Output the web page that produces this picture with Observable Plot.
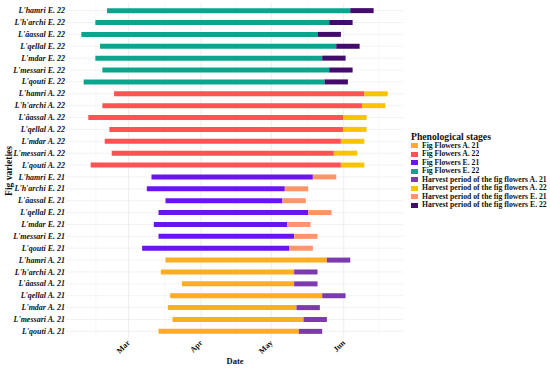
<!DOCTYPE html>
<html><head><meta charset="utf-8">
<script src="https://cdn.jsdelivr.net/npm/d3@7"></script>
<script src="https://cdn.jsdelivr.net/npm/@observablehq/plot@0.6"></script>
<style>
body{margin:0;background:#fff;}
#wrap{position:relative;width:550px;height:369px;font-family:"Liberation Serif","Times New Roman",serif;color:#111;}
#legend{position:absolute;left:411px;top:130.5px;width:139px;}
#legend .title{font-weight:bold;font-size:9.7px;line-height:11px;margin-bottom:0px;white-space:nowrap;}
.lg-swatches{margin:0 !important;font-family:"Liberation Serif","Times New Roman",serif !important;font-size:7.7px !important;font-weight:bold;color:#111;}
.lg-swatch{height:8.5px;padding:0 !important;margin:0 !important;line-height:8.5px;display:flex;align-items:center;white-space:nowrap;}
.lg-swatch svg{margin-right:4px !important;}
</style></head><body>
<div id="wrap"><div id="chart"></div><div id="legend"><div class="title">Phenological stages</div></div></div>
<script>
const varieties = ["L'hamri", "L'h'archi", "L'âassal", "L'qellal", "L'mdar", "L'messari", "L'qouti"];
const groups = ["E. 22", "A. 22", "E. 21", "A. 21"];
const stages = [
  "Fig Flowers A. 21", "Fig Flowers A. 22", "Fig Flowers E. 21", "Fig Flowers E. 22",
  "Harvest period of the fig flowers A. 21", "Harvest period of the fig flowers A. 22",
  "Harvest period of the fig flowers E. 21", "Harvest period of the fig flowers E. 22"
];
const colors = ["#FCAD22", "#FF5252", "#6A14F5", "#0BA58E", "#7B3BAE", "#F7C500", "#FF9468", "#420B6C"];

// month-day, one value per variety (order of `varieties`)
const flowerStartE22  = ["02-20", "02-15", "02-09", "02-17", "02-15", "02-18", "02-10"];
const harvestStartE22 = ["06-04", "05-26", "05-21", "05-29", "05-23", "05-26", "05-24"];
const harvestEndE22   = ["06-14", "06-05", "05-31", "06-08", "06-02", "06-05", "06-03"];

const flowerStartA22  = ["02-23", "02-18", "02-12", "02-21", "02-19", "02-22", "02-13"];
const harvestStartA22 = ["06-10", "06-09", "06-01", "06-01", "05-31", "05-28", "05-31"];
const harvestEndA22   = ["06-20", "06-19", "06-11", "06-11", "06-10", "06-07", "06-10"];

const flowerStartE21  = ["03-11", "03-09", "03-17", "03-14", "03-12", "03-14", "03-07"];
const harvestStartE21 = ["05-19", "05-07", "05-06", "05-17", "05-08", "05-11", "05-09"];
const harvestEndE21   = ["05-29", "05-17", "05-16", "05-27", "05-18", "05-21", "05-19"];

const flowerStartA21  = ["03-17", "03-15", "03-24", "03-19", "03-18", "03-20", "03-14"];
const harvestStartA21 = ["05-25", "05-11", "05-11", "05-23", "05-12", "05-15", "05-13"];
const harvestEndA21   = ["06-04", "05-21", "05-21", "06-02", "05-22", "05-25", "05-23"];

const series = {
  "E. 22": [flowerStartE22, harvestStartE22, harvestEndE22],
  "A. 22": [flowerStartA22, harvestStartA22, harvestEndA22],
  "E. 21": [flowerStartE21, harvestStartE21, harvestEndE21],
  "A. 21": [flowerStartA21, harvestStartA21, harvestEndA21]
};
const parse = s => new Date("2022-" + s + "T00:00:00Z");

const rows = [];
const segs = [];
for (const g of groups) {
  const [fs, hs, he] = series[g];
  varieties.forEach((v, i) => {
    const label = v + " " + g;
    rows.push(label);
    segs.push({label, start: parse(fs[i]), end: parse(hs[i]), stage: "Fig Flowers " + g});
    segs.push({label, start: parse(hs[i]), end: parse(he[i]), stage: "Harvest period of the fig flowers " + g});
  });
}
const allDates = segs.flatMap(d => [d.start, d.end]);
const [dmin, dmax] = d3.extent(allDates);
const pad = (dmax - dmin) * 0.05;
const domain = [new Date(+dmin - pad), new Date(+dmax + pad)];
const majors = d3.utcMonth.range(domain[0], domain[1]);
const monthStarts = d3.utcMonth.range(d3.utcMonth.floor(domain[0]), d3.utcMonth.offset(domain[1], 1));
const minors = d3.pairs(monthStarts).map(([a, b]) => new Date((+a + +b) / 2))
  .filter(d => d >= domain[0] && d <= domain[1]);

const chart = Plot.plot({
  width: 550, height: 369,
  marginLeft: 66, marginRight: 147, marginTop: 3, marginBottom: 31,
  style: {fontFamily: "'Liberation Serif','Times New Roman',serif", color: "#111", background: "white"},
  x: {type: "utc", domain},
  y: {type: "point", domain: rows, padding: 0.6, round: false},
  color: {type: "ordinal", domain: stages, range: colors},
  marks: [
    Plot.ruleX(minors, {stroke: "#f0f0f0", strokeWidth: 0.5}),
    Plot.ruleX(majors, {stroke: "#e6e6e6", strokeWidth: 0.7}),
    Plot.gridY({stroke: "#e9e9e9", strokeOpacity: 1, strokeWidth: 0.6}),
    Plot.ruleY(segs, {y: "label", x1: "start", x2: "end", stroke: "stage", strokeWidth: 5}),
    Plot.axisY({tickSize: 0, tickPadding: 1.5, fontStyle: "italic", fontWeight: "bold", fontSize: 8, label: null}),
    Plot.axisX(majors, {tickFormat: d3.utcFormat("%b"), tickRotate: -45, tickSize: 0, tickPadding: 3, fontWeight: "bold", fontSize: 8, label: null}),
    Plot.text(["Date"], {frameAnchor: "bottom", dy: 23, lineAnchor: "middle", fontWeight: "bold", fontSize: 8.5}),
    Plot.text(["Fig varieties"], {frameAnchor: "left", dx: -58, rotate: -90, textAnchor: "middle", fontWeight: "bold", fontSize: 9.5})
  ]
});
document.getElementById("chart").appendChild(chart);

const legend = Plot.legend({
  color: {type: "ordinal", domain: stages, range: colors},
  legend: "swatches", columns: 1, swatchWidth: 7, swatchHeight: 5, className: "lg"
});
document.getElementById("legend").appendChild(legend);
</script>
</body></html>
